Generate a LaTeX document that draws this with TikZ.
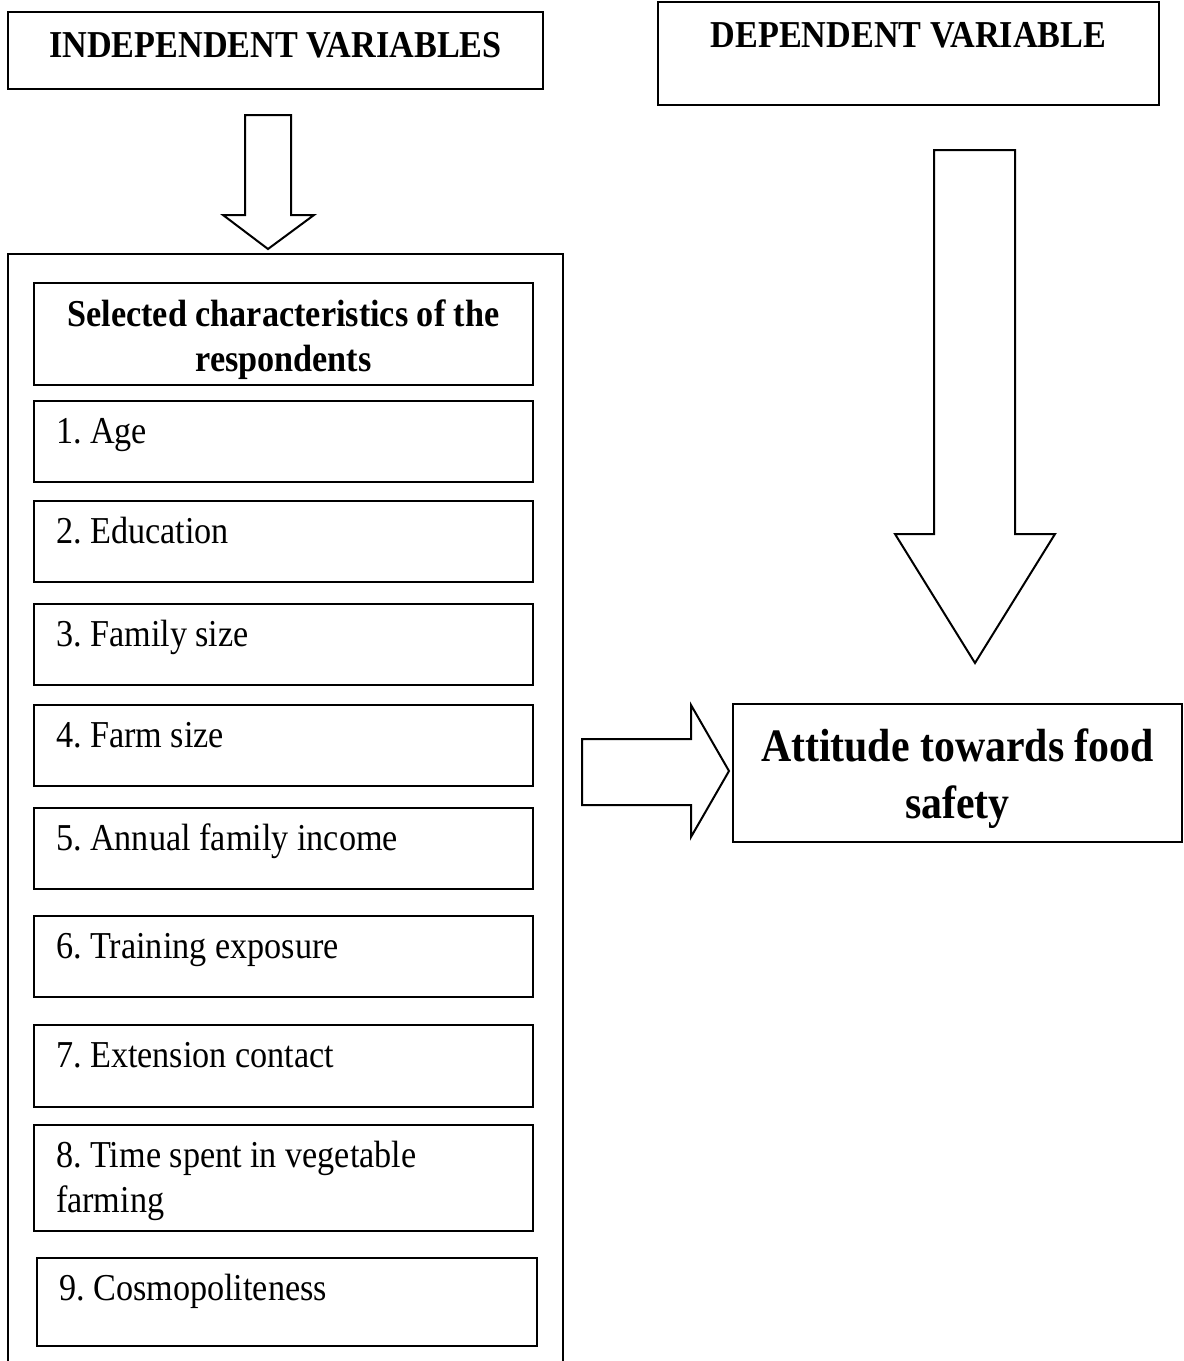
\documentclass[tikz,border=0pt]{standalone}
\usepackage{fontspec}
\setmainfont{Liberation Serif}[FakeStretch=0.9]
\usetikzlibrary{positioning}
\frenchspacing
\def\ItemWidth{499pt}
\def\ItemHeight{81pt}
\tikzset{
  varbox/.style={draw, line width=2pt, inner sep=0pt, outer sep=0pt, anchor=north west, align=flush center,
    font=\fontsize{38}{45}\selectfont\bfseries},
  itembox/.style={draw, line width=2pt, inner ysep=0pt, inner xsep=22pt, outer sep=0pt, align=flush left,
    minimum width=\ItemWidth, text width=\ItemWidth-44pt, text height=42pt, text depth=\ItemHeight-42pt,
    font=\fontsize{38}{45}\selectfont},
  hollow arrow/.style={draw, line width=2pt, line join=miter, fill=white},
}
\begin{document}
\begin{tikzpicture}[x=1pt,y=-1pt]
  \useasboundingbox (0,0) rectangle (1184,1361);
  % top headings
  \node[varbox, minimum width=535pt, text width=535pt, text height=45pt, text depth=32pt] (indep) at (8,12) {INDEPENDENT VARIABLES};
  \node[varbox, minimum width=501pt, text width=501pt, text height=45pt, text depth=58pt] (dep) at (658,2) {DEPENDENT VARIABLE};
  % container, open at the bottom
  \draw[line width=2pt] (8,1361) -- (8,254) -- (563,254) -- (563,1361);
  % characteristics
  \node[varbox, minimum width=\ItemWidth, text width=\ItemWidth, text height=43pt, text depth=59pt] (sel) at (34,283) {Selected characteristics of the\\respondents};
  \node[itembox, anchor=north west] (age) at (34,401) {1. Age};
  \node[itembox, below=19pt of age] (edu) {2. Education};
  \node[itembox, below=22pt of edu] (fam) {3. Family size};
  \node[itembox, below=20pt of fam] (farm) {4. Farm size};
  \node[itembox, below=22pt of farm] (income) {5. Annual family income};
  \node[itembox, below=27pt of income] (train) {6. Training exposure};
  \node[itembox, below=28pt of train, text depth=40pt] (ext) {7. Extension contact};
  \node[itembox, below=18pt of ext, text depth=64pt] (veg) {8. Time spent in vegetable\\farming};
  \node[itembox, below=27pt of veg, xshift=3pt, minimum width=500pt, text depth=46pt] (cosmo) {9. Cosmopoliteness};
  % result
  \node[varbox, minimum width=449pt, text width=449pt, text height=57pt, text depth=81pt,
    font=\fontsize{46.5}{57}\selectfont\bfseries] (att) at (733,704) {Attitude towards food\\safety};
  % block arrows
  \draw[hollow arrow] (245,115) -- (291,115) -- (291,215) -- (314,215) -- (268,249)
    -- (223,215) -- (245,215) -- cycle;
  \draw[hollow arrow] (934,150) -- (1015,150) -- (1015,534) -- (1055,534) -- (975,663)
    -- (895,534) -- (934,534) -- cycle;
  \draw[hollow arrow] (582,739) -- (691,739) -- (691,705) -- (729,771) -- (691,837)
    -- (691,805) -- (582,805) -- cycle;
\end{tikzpicture}
\end{document}
